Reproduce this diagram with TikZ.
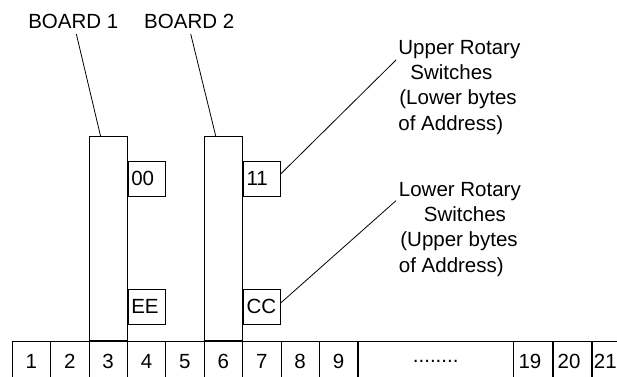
\documentclass[tikz,border=0pt]{standalone}
\usepackage{fontspec}
\setmainfont{Liberation Sans}

\begin{document}
\begin{tikzpicture}[x=1pt,y=1pt,line width=0.8pt,
  every node/.style={font=\fontsize{20.5}{25.2}\selectfont},
  cell/.style={draw,minimum width=38.4pt,minimum height=40pt,inner sep=0pt,anchor=north west},
  board/.style={draw,minimum width=38.6pt,minimum height=204pt,inner sep=0pt,anchor=south west},
  switch/.style={draw,text width=31pt,align=left,inner xsep=3pt,inner ysep=0pt,minimum height=35pt},
  note/.style={align=left,inner sep=0pt,anchor=north west}]
  \useasboundingbox (0,0) rectangle (617,376);
  \clip (0,0) rectangle (617,376);

  % slots of the backplane
  \foreach \i in {1,...,9}
    \node[cell] (s\i) at ({11.7+(\i-1)*38.4},35.3) {\i};
  \node[cell,minimum width=154.4pt] (sdots) at (s9.north east) {........};
  \foreach \i/\j/\k in {19/sdots/3,20/s19/3,21/s20/6}
    \node[cell,label={[xshift=-\k pt]center:\i}] (s\i) at (\j.north east) {};

  % boards and their rotary switches
  \node[board] (bd1) at (s3.north west) {};
  \node[board] (bd2) at (s6.north west) {};
  \node[switch,anchor=north west] (sw00) at ([yshift=-25pt]bd1.north east) {00};
  \node[switch,anchor=south west] (swEE) at ([yshift=16pt]bd1.south east) {EE};
  \node[switch,anchor=north west] (sw11) at ([yshift=-25pt]bd2.north east) {11};
  \node[switch,anchor=south west] (swCC) at ([yshift=16pt]bd2.south east) {CC};

  % labels
  \node[anchor=base,inner sep=5pt] (lbl1) at (73.3,347.7) {BOARD 1};
  \node[anchor=base,inner sep=5pt] (lbl2) at (189.2,347.7) {BOARD 2};
  \node[note] (upper) at (398,336) {Upper Rotary\\\hspace{12pt}Switches\\\hspace{1pt}(Lower bytes\\of Address)};
  \node[note] (lower) at (398.5,194) {Lower Rotary\\\hspace{25pt}Switches\\\hspace{1.5pt}(Upper bytes\\of Address)};

  \draw ([xshift=3pt]lbl1.south) -- ([xshift=12pt]bd1.north west);
  \draw ([xshift=1.5pt]lbl2.south) -- ([xshift=12pt]bd2.north west);
  \draw ([yshift=5pt]sw11.east) -- ([shift={(-2pt,-20pt)}]upper.north west);
  \draw ([yshift=4pt]swCC.east) -- ([shift={(-2.5pt,-18.7pt)}]lower.north west);
\end{tikzpicture}
\end{document}
